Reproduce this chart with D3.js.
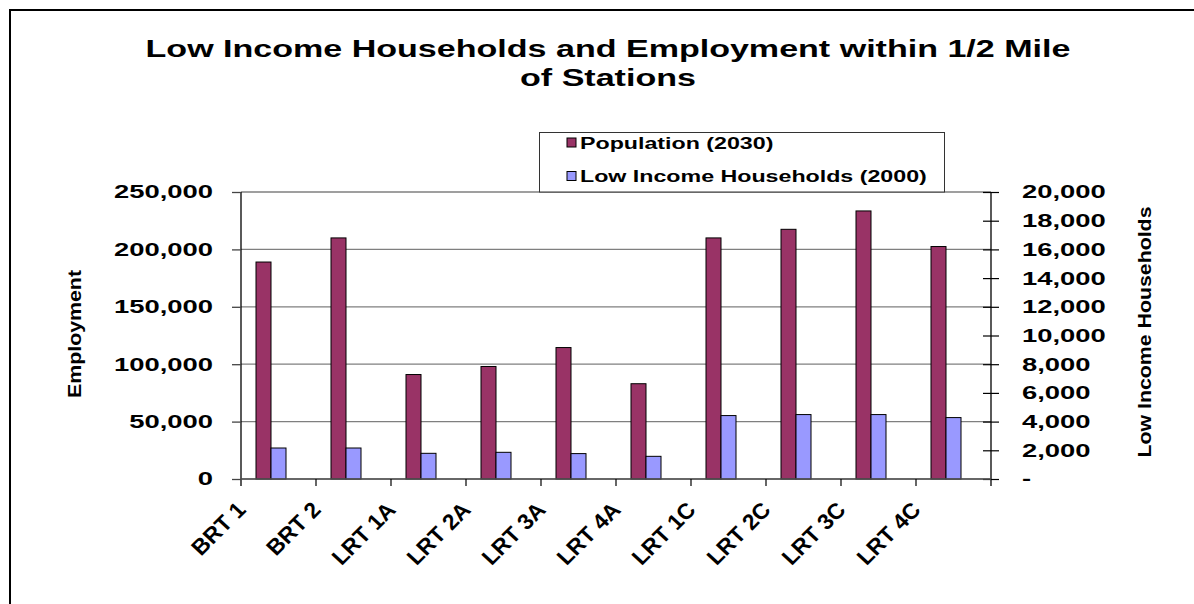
<!DOCTYPE html>
<html>
<head>
<meta charset="utf-8">
<script src="https://cdn.jsdelivr.net/npm/d3@7"></script>
<style>
  html, body { margin: 0; padding: 0; background: #fff; }
  svg { display: block; }
  text { font-family: "Liberation Sans", Arial, sans-serif; font-weight: bold; fill: #000; }
</style>
</head>
<body>
<svg id="chart" width="1194" height="604"></svg>
<script>
// ---- Data ----
const categories = ["BRT 1", "BRT 2", "LRT 1A", "LRT 2A", "LRT 3A", "LRT 4A", "LRT 1C", "LRT 2C", "LRT 3C", "LRT 4C"];
const population2030 = [189000, 210000, 91000, 98000, 114500, 83000, 210000, 217500, 233500, 202500];
const lowIncome2000 = [2160, 2160, 1790, 1860, 1770, 1580, 4420, 4490, 4490, 4280];
const seriesNames = ["Population (2030)", "Low Income Households (2000)"];
const seriesColors = ["#993366", "#9999FF"];
const leftTicks = [0, 50000, 100000, 150000, 200000, 250000];
const rightTicks = [0, 2000, 4000, 6000, 8000, 10000, 12000, 14000, 16000, 18000, 20000];
const titleLines = ["Low Income Households and Employment within 1/2 Mile", "of Stations"];
const leftAxisTitle = "Employment";
const rightAxisTitle = "Low Income Households";

// ---- Layout ----
const plot = { left: 241, right: 991, top: 192, bottom: 479 };
const svg = d3.select("#chart");

function stretch(sel, k) {
  sel.each(function () {
    const w = this.getComputedTextLength();
    this.setAttribute("textLength", w * k);
    this.setAttribute("lengthAdjust", "spacingAndGlyphs");
  });
}

// outer border
svg.append("rect").attr("x", 10).attr("y", 10).attr("width", 1300).attr("height", 700)
  .attr("fill", "#fff").attr("stroke", "#000").attr("stroke-width", 2);

// scales
const x0 = d3.scaleBand().domain(categories).range([plot.left, plot.right]).padding(0);
const x1 = d3.scaleBand().domain(["pop", "low"]).range([x0.bandwidth() * 0.2, x0.bandwidth() * 0.6]).padding(0);
const yL = d3.scaleLinear().domain([0, 250000]).range([plot.bottom, plot.top]);
const yR = d3.scaleLinear().domain([0, 20000]).range([plot.bottom, plot.top]);

// gridlines
svg.append("g").selectAll("line").data(leftTicks).join("line")
  .attr("x1", plot.left).attr("x2", plot.right)
  .attr("y1", d => yL(d)).attr("y2", d => yL(d))
  .attr("stroke", "#7f7f7f").attr("stroke-width", 1.3);

// bars
const rows = categories.map((c, i) => ({ c, pop: population2030[i], low: lowIncome2000[i] }));
const g = svg.append("g");
g.selectAll("rect.pop").data(rows).join("rect").attr("class", "pop")
  .attr("x", d => x0(d.c) + x1("pop")).attr("width", x1.bandwidth())
  .attr("y", d => yL(d.pop)).attr("height", d => yL(0) - yL(d.pop))
  .attr("fill", seriesColors[0]).attr("stroke", "#000").attr("stroke-width", 1);
g.selectAll("rect.low").data(rows).join("rect").attr("class", "low")
  .attr("x", d => x0(d.c) + x1("low")).attr("width", x1.bandwidth())
  .attr("y", d => yR(d.low)).attr("height", d => yR(0) - yR(d.low))
  .attr("fill", seriesColors[1]).attr("stroke", "#000").attr("stroke-width", 1);

// left axis
const axL = svg.append("g").attr("transform", `translate(${plot.left},0)`)
  .call(d3.axisLeft(yL).tickValues(leftTicks).tickFormat(d3.format(",")).tickSize(9).tickPadding(19));
axL.select(".domain").attr("stroke", "#000").attr("stroke-width", 1.3).attr("d", `M0,${plot.top}V${plot.bottom + 7}`);
axL.selectAll(".tick line").attr("stroke", "#444").attr("stroke-width", 1.3);
axL.selectAll(".tick text").attr("font-size", 18.5).attr("font-family", null).call(stretch, 1.48);

// right axis
const axR = svg.append("g").attr("transform", `translate(${plot.right},0)`)
  .call(d3.axisRight(yR).tickValues(rightTicks).tickFormat(d => d === 0 ? "-" : d3.format(",")(d)).tickSize(8).tickPadding(23));
axR.select(".domain").attr("stroke", "#000").attr("stroke-width", 1.3).attr("d", `M0,${plot.top}V${plot.bottom + 7}`);
axR.selectAll(".tick line").attr("x1", -8).attr("stroke", "#000").attr("stroke-width", 1.2);
axR.selectAll(".tick text").attr("font-size", 18.5).attr("font-family", null).call(stretch, 1.48);

// x axis
svg.append("line").attr("x1", plot.left).attr("x2", plot.right).attr("y1", plot.bottom).attr("y2", plot.bottom)
  .attr("stroke", "#555").attr("stroke-width", 1.3);
svg.append("g").selectAll("line").data(categories.slice(1)).join("line")
  .attr("x1", d => x0(d)).attr("x2", d => x0(d))
  .attr("y1", plot.bottom).attr("y2", plot.bottom + 7)
  .attr("stroke", "#000").attr("stroke-width", 1.2);

svg.append("g").selectAll("text").data(categories).join("text")
  .attr("transform", d => `translate(${x0(d) + 6},${plot.bottom + 32}) scale(1.04,1) rotate(-46)`)
  .attr("text-anchor", "end").attr("font-size", 22).text(d => d);

// title
svg.append("g").selectAll("text").data(titleLines).join("text")
  .attr("x", 608).attr("y", (d, i) => 56.5 + i * 29)
  .attr("text-anchor", "middle").attr("font-size", 23).text(d => d)
  .call(stretch, 1.48);

// axis titles
svg.append("text").attr("transform", "translate(81,334) rotate(-90)")
  .attr("text-anchor", "middle").attr("font-size", 19).text(leftAxisTitle)
  .attr("textLength", 128).attr("lengthAdjust", "spacingAndGlyphs");
svg.append("text").attr("transform", "translate(1151,332) rotate(-90)")
  .attr("text-anchor", "middle").attr("font-size", 19).text(rightAxisTitle)
  .attr("textLength", 251).attr("lengthAdjust", "spacingAndGlyphs");

// legend
const lg = svg.append("g");
lg.append("rect").attr("x", 539.5).attr("y", 132.5).attr("width", 405).attr("height", 59.5)
  .attr("fill", "#fff").attr("stroke", "#333").attr("stroke-width", 1);
const items = lg.selectAll("g.item").data(seriesNames).join("g").attr("class", "item")
  .attr("transform", (d, i) => `translate(567,${142.5 + i * 33.5})`);
items.append("rect").attr("x", 0).attr("y", -4.5).attr("width", 9).attr("height", 9)
  .attr("fill", (d, i) => seriesColors[i]).attr("stroke", "#000").attr("stroke-width", 1);
items.append("text").attr("x", 13).attr("y", 6).attr("font-size", 16).text(d => d).call(stretch, 1.45);
</script>
</body>
</html>
